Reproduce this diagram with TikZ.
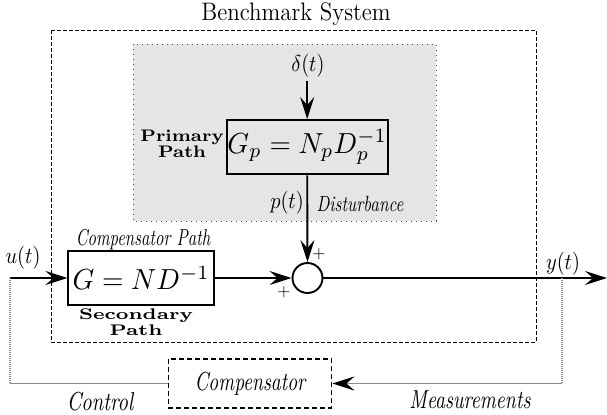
\documentclass[tikz,border=0pt]{standalone}
\usepackage{graphicx}
\usetikzlibrary{arrows.meta}
\begin{document}
\begin{tikzpicture}[x=0.5pt,y=-0.5pt,
  line width=0.95pt,
  >={Stealth[length=11pt,width=7pt,inset=4pt]},
  blk/.style={draw,line width=0.95pt,inner sep=0pt},
  lbl/.style={inner sep=0pt},
  fb/.style={draw=black!45,dash pattern=on 0.6pt off 0.4pt,line width=0.9pt},
  boldlbl/.style={inner sep=0pt,align=center,font=\fontsize{7.6}{7.8}\selectfont\bfseries},
]
\useasboundingbox (0,0) rectangle (607,414);

% frames
\draw[dash pattern=on 1.8pt off 1.2pt,line width=0.45pt] (51,30) rectangle (536,342);
\draw[fill=black!10,draw=black!70,dotted,line width=0.5pt] (133,44) rectangle (436,221);

\node[lbl] (title) at (296,14) {\scalebox{1}[1.1]{\fontsize{11.5}{13}\selectfont Benchmark System}};

% blocks
\node[blk,minimum width=80.5pt,minimum height=27.2pt] (Gp) at (307.2,147.2) {\scalebox{1.38}[1.45]{$G_p = N_pD_p^{-1}$}};
\node[blk,minimum width=72.8pt,minimum height=27pt] (G) at (141.2,278) {\scalebox{1.38}[1.45]{$G = ND^{-1}$}};
\node[draw,circle,minimum size=15pt,inner sep=0pt,line width=0.95pt] (sum) at (307.5,278) {};
\node[draw,dash pattern=on 2.5pt off 1.5pt,line width=0.7pt,minimum width=81.7pt,minimum height=24.5pt,inner sep=0pt] (comp) at (250,383.5) {\scalebox{0.97}[1.3]{\itshape Compensator}};

% labels
\node[lbl] (delta) at (308,66) {\scalebox{1.02}[1.15]{$\delta(t)$}};
\node[boldlbl] (prim) at (182,144) {\scalebox{1.23}[1.1]{Primary}\\\scalebox{1.23}[1.1]{Path}};
\node[boldlbl,font=\fontsize{7}{6.8}\selectfont\bfseries] (sec) at (136,322) {\scalebox{1.4}[1.1]{Secondary}\\\scalebox{1.4}[1.1]{Path}};
\node[lbl] (cpath) at (143,240) {\scalebox{0.83}[1.15]{\itshape Compensator Path}};
\node[lbl] (pt) at (287,203) {\scalebox{1.02}[1.15]{$p(t)$}};
\node[lbl] (dist) at (360,204) {\scalebox{0.85}[1.1]{\itshape Disturbance}};
\node[lbl] (ut) at (23,258) {\scalebox{1.02}[1.15]{$u(t)$}};
\node[lbl] (yt) at (563,264) {\scalebox{1.02}[1.15]{$y(t)$}};
\node[lbl] (plusa) at (319,254) {\scalebox{0.85}{$+$}};
\node[lbl] (plusb) at (284,292) {\scalebox{0.85}{$+$}};
\node[lbl] (ctrl) at (100,402) {\scalebox{1.02}[1.3]{\itshape Control}};
\node[lbl] (meas) at (470,400) {\scalebox{0.98}[1.3]{\itshape Measurements}};

% connectors
\coordinate (din) at (307.2,81);
\coordinate (uin) at (10,278);
\coordinate (yout) at (607,278);
\coordinate (ytap) at (562,278);
\draw[->] (din) -- (Gp.north);
\draw[->] (Gp.south) -- (sum.north);
\draw[->] (uin) -- (G.west);
\draw[->] (G.east) -- (sum.west);
\draw[->] (sum.east) -- (yout);
\draw[fb,-{Stealth[length=11pt,width=7pt,inset=4pt,color=black]}] (ytap) |- (comp.east);
\draw[fb] (comp.west) -| (uin);
\end{tikzpicture}
\end{document}
